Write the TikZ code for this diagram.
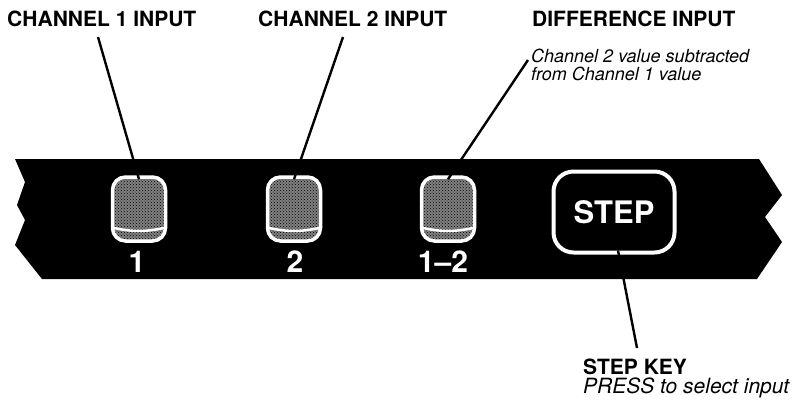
\documentclass[tikz,border=0pt]{standalone}
\usepackage{fontspec}
\setmainfont{TeX Gyre Heros}
\usetikzlibrary{patterns}

\begin{document}
\begin{tikzpicture}[x=1pt, y=-1pt,
  head/.style={font=\bfseries\fontsize{21}{22}\selectfont, anchor=base west, inner sep=0pt},
  note/.style={font=\itshape\fontsize{18}{18}\selectfont, align=left, inner sep=0pt},
  key/.style={draw=white, line width=3.5pt, rounded corners=13pt, minimum width=53pt, minimum height=64pt, preaction={fill=black!50}, pattern=crosshatch dots, pattern color=black},
  keylabel/.style={text=white, font=\bfseries\fontsize{30}{30}\selectfont, inner sep=0pt},
  stepbtn/.style={draw=white, line width=4pt, rounded corners=20pt, minimum width=121pt, minimum height=81pt, text=white, font=\bfseries\fontsize{31}{31}\selectfont},
  lip/.style={draw=white, line width=2.5pt},
  leader/.style={line width=2.4pt}]
\useasboundingbox (0,0) rectangle (799,405);
\fill (15,159) -- (759,159) -- (782,195) -- (765,217) -- (782,242) -- (757,279) -- (42,279)
  -- (15,245) -- (25,220) -- (17,205) -- (25,182) -- cycle;

\node[key] (k1) at (139,209) {};
\node[key] (k2) at (294,209) {};
\node[key] (k3) at (448,209) {};
\draw[lip] ([xshift=2pt,yshift=15pt]k1.south west) to[bend right=12] ([xshift=-2pt,yshift=15pt]k1.south east);
\draw[lip] ([xshift=2pt,yshift=15pt]k2.south west) to[bend right=12] ([xshift=-2pt,yshift=15pt]k2.south east);
\draw[lip] ([xshift=2pt,yshift=15pt]k3.south west) to[bend right=12] ([xshift=-2pt,yshift=15pt]k3.south east);
\node[keylabel] (n1) at (137,262) {1};
\node[keylabel] (n2) at (295,262) {2};
\node[keylabel] (n3) at (443,262) {1--2};
\node[stepbtn] (stepkey) at (614,212) {STEP};

\node[head] (ch1) at (7,26) {CHANNEL 1 INPUT};
\node[head] (ch2) at (258,26) {CHANNEL 2 INPUT};
\node[head] (diff) at (532,26) {DIFFERENCE INPUT};
\node[note, anchor=north west] (diffnote) at (531,49) {Channel 2 value subtracted\\from Channel 1 value};
\node[head] (stephead) at (583,374) {STEP KEY};
\node[note, anchor=base west, font=\itshape\fontsize{21}{22}\selectfont] (press) at (583,393) {PRESS to select input};

\coordinate (t1) at (98,37);
\coordinate (t2) at (343,37);
\coordinate (t3) at (528,60);
\coordinate (t4) at (637,348);
\draw[leader] (t1) -- ([yshift=-4pt]k1.north);
\draw[leader] (t2) -- ([yshift=-4pt]k2.north);
\draw[leader] (t3) -- ([yshift=-4pt]k3.north);
\draw[leader] ([xshift=4pt,yshift=4pt]stepkey.south) -- (t4);
\end{tikzpicture}
\end{document}
